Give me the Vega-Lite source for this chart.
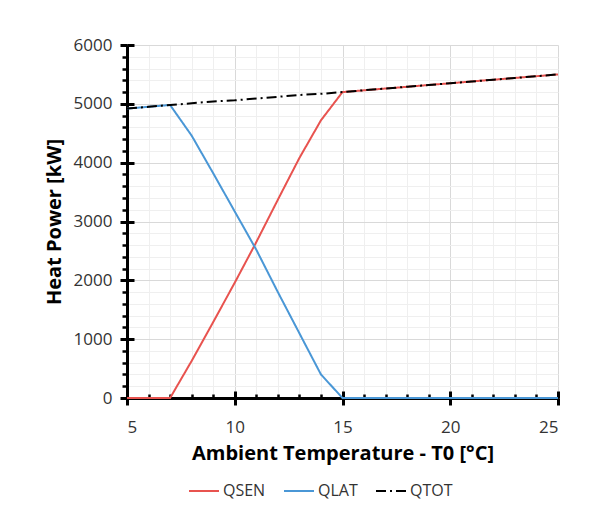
{
  "$schema": "https://vega.github.io/schema/vega-lite/v6.json",
  "autosize": "none",
  "width": 431,
  "height": 353,
  "padding": {"left": 127, "top": 45, "right": 37, "bottom": 122},
  "background": "white",
  "config": {
    "view": {"stroke": null},
    "font": "Open Sans"
  },
  "data": {
    "values": [
      {"T": 5, "s": "QSEN", "Q": 0}, {"T": 6, "s": "QSEN", "Q": 0}, {"T": 7, "s": "QSEN", "Q": 0},
      {"T": 8, "s": "QSEN", "Q": 630}, {"T": 9, "s": "QSEN", "Q": 1290}, {"T": 10, "s": "QSEN", "Q": 1960},
      {"T": 11, "s": "QSEN", "Q": 2650}, {"T": 12, "s": "QSEN", "Q": 3370}, {"T": 13, "s": "QSEN", "Q": 4080},
      {"T": 14, "s": "QSEN", "Q": 4720}, {"T": 15, "s": "QSEN", "Q": 5200}, {"T": 16, "s": "QSEN", "Q": 5230},
      {"T": 17, "s": "QSEN", "Q": 5260}, {"T": 18, "s": "QSEN", "Q": 5290}, {"T": 19, "s": "QSEN", "Q": 5320},
      {"T": 20, "s": "QSEN", "Q": 5350}, {"T": 21, "s": "QSEN", "Q": 5380}, {"T": 22, "s": "QSEN", "Q": 5410},
      {"T": 23, "s": "QSEN", "Q": 5440}, {"T": 24, "s": "QSEN", "Q": 5470}, {"T": 25, "s": "QSEN", "Q": 5500},
      {"T": 5, "s": "QLAT", "Q": 4920}, {"T": 6, "s": "QLAT", "Q": 4950}, {"T": 7, "s": "QLAT", "Q": 4980},
      {"T": 8, "s": "QLAT", "Q": 4460}, {"T": 9, "s": "QLAT", "Q": 3820}, {"T": 10, "s": "QLAT", "Q": 3170},
      {"T": 11, "s": "QLAT", "Q": 2520}, {"T": 12, "s": "QLAT", "Q": 1800}, {"T": 13, "s": "QLAT", "Q": 1100},
      {"T": 14, "s": "QLAT", "Q": 400}, {"T": 15, "s": "QLAT", "Q": 0}, {"T": 16, "s": "QLAT", "Q": 0},
      {"T": 17, "s": "QLAT", "Q": 0}, {"T": 18, "s": "QLAT", "Q": 0}, {"T": 19, "s": "QLAT", "Q": 0},
      {"T": 20, "s": "QLAT", "Q": 0}, {"T": 21, "s": "QLAT", "Q": 0}, {"T": 22, "s": "QLAT", "Q": 0},
      {"T": 23, "s": "QLAT", "Q": 0}, {"T": 24, "s": "QLAT", "Q": 0}, {"T": 25, "s": "QLAT", "Q": 0},
      {"T": 5, "s": "QTOT", "Q": 4920}, {"T": 6, "s": "QTOT", "Q": 4950}, {"T": 7, "s": "QTOT", "Q": 4980},
      {"T": 8, "s": "QTOT", "Q": 5010}, {"T": 9, "s": "QTOT", "Q": 5040}, {"T": 10, "s": "QTOT", "Q": 5060},
      {"T": 11, "s": "QTOT", "Q": 5090}, {"T": 12, "s": "QTOT", "Q": 5120}, {"T": 13, "s": "QTOT", "Q": 5150},
      {"T": 14, "s": "QTOT", "Q": 5170}, {"T": 15, "s": "QTOT", "Q": 5200}, {"T": 16, "s": "QTOT", "Q": 5230},
      {"T": 17, "s": "QTOT", "Q": 5260}, {"T": 18, "s": "QTOT", "Q": 5290}, {"T": 19, "s": "QTOT", "Q": 5320},
      {"T": 20, "s": "QTOT", "Q": 5350}, {"T": 21, "s": "QTOT", "Q": 5380}, {"T": 22, "s": "QTOT", "Q": 5410},
      {"T": 23, "s": "QTOT", "Q": 5440}, {"T": 24, "s": "QTOT", "Q": 5470}, {"T": 25, "s": "QTOT", "Q": 5500}
    ]
  },
  "resolve": {"axis": {"x": "independent", "y": "independent"}},
  "layer": [
    {
      "mark": {"type": "point", "opacity": 0},
      "encoding": {
        "x": {"field": "T", "type": "quantitative", "scale": {"domain": [5, 25], "nice": false, "zero": false},
          "axis": {"orient": "bottom", "values": [5,6,7,8,9,10,11,12,13,14,15,16,17,18,19,20,21,22,23,24,25],
            "grid": true, "gridColor": "#efefef", "gridWidth": 1, "labels": false, "domain": false,
            "ticks": true, "tickSize": -4, "tickWidth": 2.5, "tickColor": "black", "title": null}},
        "y": {"field": "Q", "type": "quantitative", "scale": {"domain": [0, 6000], "nice": false},
          "axis": {"orient": "left", "values": [0,200,400,600,800,1000,1200,1400,1600,1800,2000,2200,2400,2600,2800,3000,3200,3400,3600,3800,4000,4200,4400,4600,4800,5000,5200,5400,5600,5800,6000],
            "grid": true, "gridColor": "#efefef", "gridWidth": 1, "labels": false, "domain": false,
            "ticks": true, "tickSize": 5, "tickWidth": 2.5, "tickColor": "black", "title": null}}
      }
    },
    {
      "mark": {"type": "point", "opacity": 0},
      "encoding": {
        "x": {"field": "T", "type": "quantitative",
          "axis": {"orient": "bottom", "values": [5,10,15,20,25], "grid": false, "labels": false, "domain": false,
            "ticks": true, "tickSize": -7, "tickWidth": 3, "tickColor": "black", "title": null}},
        "y": {"field": "Q", "type": "quantitative",
          "axis": {"orient": "left", "values": [0,1000,2000,3000,4000,5000,6000], "grid": false, "labels": false, "domain": false,
            "ticks": true, "tickSize": -7, "tickWidth": 3, "tickColor": "black", "title": null}}
      }
    },
    {
      "mark": {"type": "line", "strokeWidth": 2},
      "encoding": {
        "x": {"field": "T", "type": "quantitative",
          "axis": {"orient": "bottom", "values": [5,10,15,20,25], "grid": true, "gridColor": "#d9d9d9", "gridWidth": 1,
            "domain": true, "domainColor": "black", "domainWidth": 3,
            "ticks": true, "tickSize": 7, "tickWidth": 3, "tickColor": "black",
            "labelFont": "Open Sans", "labelFontSize": 17, "labelColor": "#333333", "labelPadding": 14,
            "title": "Ambient Temperature - T0 [°C]", "titleFont": "Open Sans", "titleFontSize": 20, "titleFontWeight": "bold",
            "titleColor": "black", "titlePadding": 8}},
        "y": {"field": "Q", "type": "quantitative",
          "axis": {"orient": "left", "values": [0,1000,2000,3000,4000,5000,6000], "format": "d", "grid": true, "gridColor": "#d9d9d9", "gridWidth": 1,
            "domain": true, "domainColor": "black", "domainWidth": 3,
            "ticks": true, "tickSize": 7, "tickWidth": 3, "tickColor": "black",
            "labelFont": "Open Sans", "labelFontSize": 17, "labelColor": "#333333", "labelPadding": 8,
            "title": "Heat Power [kW]", "titleFont": "Open Sans", "titleFontSize": 20, "titleFontWeight": "bold",
            "titleColor": "black", "titlePadding": 9}},
        "color": {"field": "s", "type": "nominal", "title": null,
          "scale": {"domain": ["QSEN", "QLAT", "QTOT"], "range": ["#e8534f", "#4a97d6", "#000000"]},
          "legend": {"orient": "none", "legendX": 61, "legendY": 430, "direction": "horizontal", "symbolType": "stroke", "symbolSize": 900,
            "symbolStrokeWidth": 2, "labelFont": "Open Sans", "labelFontSize": 16, "labelColor": "#333333",
            "columnPadding": 14, "labelOffset": 3}},
        "strokeDash": {"field": "s", "type": "nominal", "title": null,
          "scale": {"domain": ["QSEN", "QLAT", "QTOT"], "range": [[1, 0], [1, 0], [10, 4, 2, 4]]},
          "legend": {"orient": "none", "legendX": 61, "legendY": 430, "direction": "horizontal", "symbolType": "stroke", "symbolSize": 900,
            "symbolStrokeWidth": 2, "labelFont": "Open Sans", "labelFontSize": 16, "labelColor": "#333333",
            "columnPadding": 14, "labelOffset": 3}}
      }
    }
  ]
}
